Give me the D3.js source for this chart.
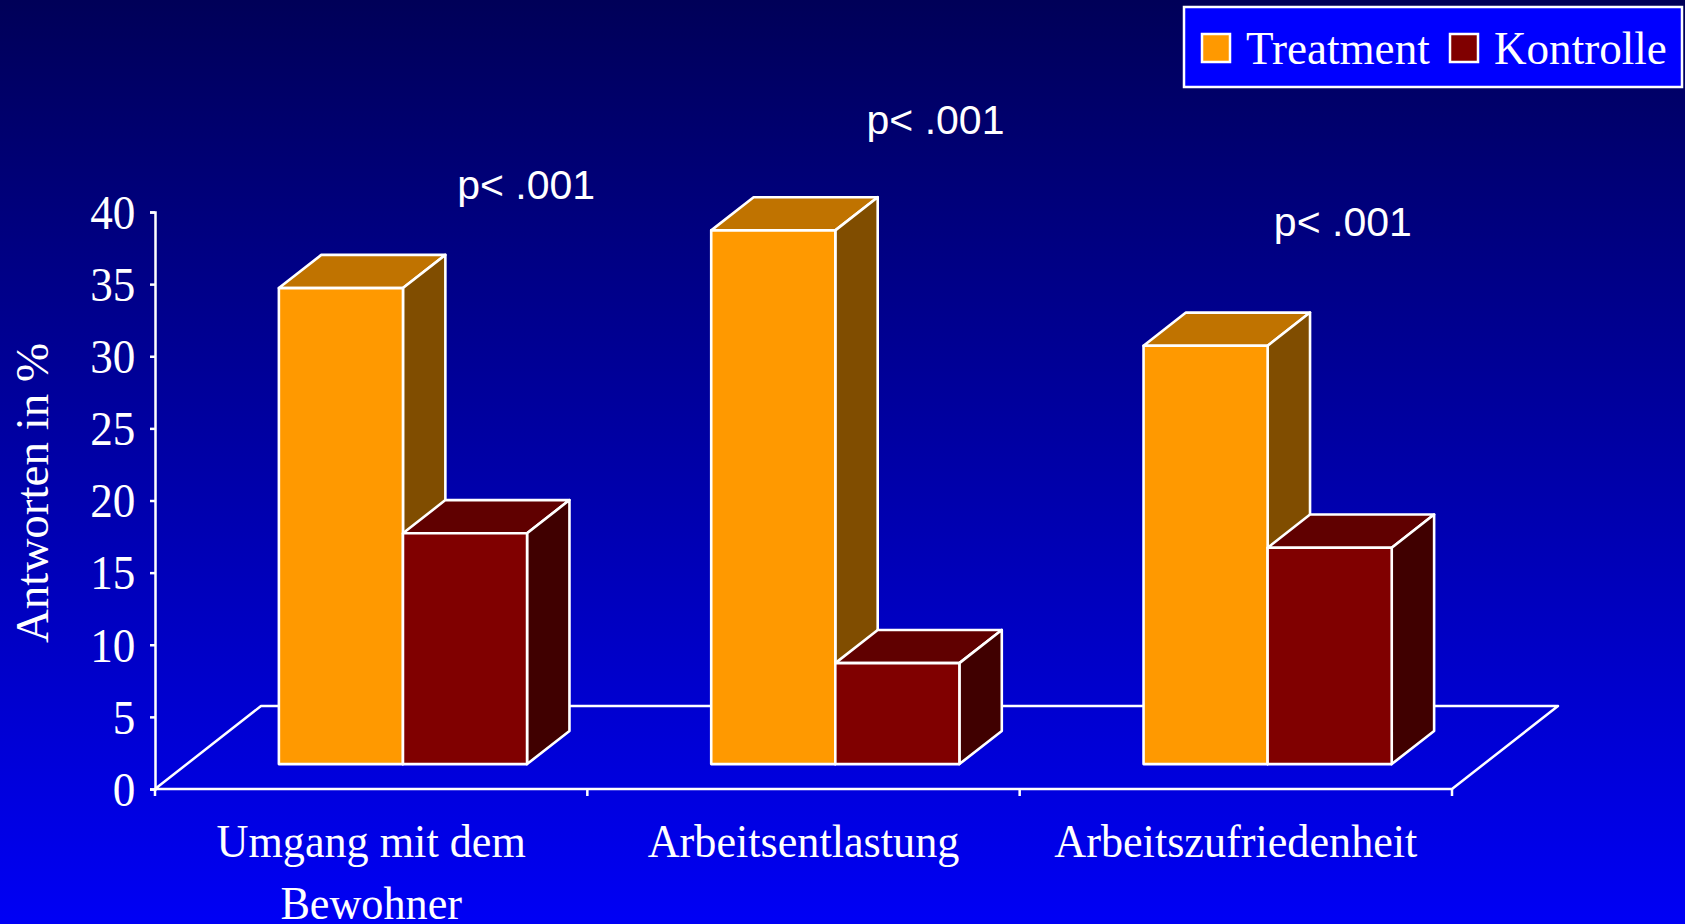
<!DOCTYPE html>
<html>
<head>
<meta charset="utf-8">
<script src="https://cdn.jsdelivr.net/npm/d3@7"></script>
<style>
  html, body { margin: 0; padding: 0; overflow: hidden; background: #000080; }
</style>
</head>
<body>
<div id="container"></div>
<script>
/* DATA */
const categories = ["Umgang mit dem Bewohner", "Arbeitsentlastung", "Arbeitszufriedenheit"];
const categoryLines = [["Umgang mit dem", "Bewohner"], ["Arbeitsentlastung"], ["Arbeitszufriedenheit"]];
const series = ["Treatment", "Kontrolle"];
const treatment = [33, 37, 29];
const kontrolle = [16, 7, 15];
const yTicks = [0, 5, 10, 15, 20, 25, 30, 35, 40];
const pLabels = ["p< .001", "p< .001", "p< .001"];
const yTitle = "Antworten in %";

/* CONSTANTS */
const width = 1685;
const height = 924;
const serif = "'Liberation Serif', 'Times New Roman', serif";
const sans = "'Liberation Sans', Arial, sans-serif";
const squash = 0.94;   // slide text looks a bit narrow
const depthX = 106, depthY = -83;   // floor depth
const barFront = 0.3, barBack = 0.7;

const faceColors = {
  Treatment: { front: "#ff9900", top: "#c07300", side: "#804d00" },
  Kontrolle: { front: "#800000", top: "#600000", side: "#400000" }
};

/* SCALES */
const xScale = d3.scaleBand()
  .domain(categories)
  .range([155, 1452])
  .padding(0);

const xSub = d3.scaleBand()
  .domain(series)
  .range([0, xScale.bandwidth()])
  .paddingInner(0)
  .paddingOuter(0.742);

const yScale = d3.scaleLinear()
  .domain([0, 40])
  .range([789, 212]);

/* SVG */
const svg = d3.select("#container")
  .append("svg")
  .attr("width", width)
  .attr("height", height);

const grad = svg.append("defs").append("linearGradient")
  .attr("id", "bg")
  .attr("x1", 0).attr("y1", 0).attr("x2", 0).attr("y2", 1);
grad.append("stop").attr("offset", "0%").attr("stop-color", "#000058");
grad.append("stop").attr("offset", "100%").attr("stop-color", "#0000f5");

svg.append("rect")
  .attr("width", width)
  .attr("height", height)
  .attr("fill", "url(#bg)");

// floor
const x0 = xScale.range()[0], x1 = xScale.range()[1], y0 = yScale(0);
svg.append("polygon")
  .attr("points", [[x0, y0], [x0 + depthX, y0 + depthY], [x1 + depthX, y0 + depthY], [x1, y0]].join(" "))
  .attr("fill", "none")
  .attr("stroke", "white")
  .attr("stroke-width", 2.5)
  .attr("stroke-linejoin", "round");

// x ticks
const xTickPos = categories.map(d => xScale(d)).concat([x1]);
svg.selectAll("line.xtick")
  .data(xTickPos)
  .join("line")
  .attr("class", "xtick")
  .attr("x1", d => d).attr("x2", d => d)
  .attr("y1", y0).attr("y2", y0 + 7)
  .attr("stroke", "white")
  .attr("stroke-width", 2.5);

// bars
const bars = [];
categories.forEach((c, i) => {
  bars.push({ cat: c, s: "Treatment", v: treatment[i] });
  bars.push({ cat: c, s: "Kontrolle", v: kontrolle[i] });
});

const fdx = depthX * barFront, fdy = depthY * barFront;
const bdx = depthX * (barBack - barFront), bdy = depthY * (barBack - barFront);

const barG = svg.selectAll("g.bar")
  .data(bars)
  .join("g")
  .attr("class", "bar")
  .attr("stroke", "white")
  .attr("stroke-width", 2.6)
  .attr("stroke-linejoin", "round");

barG.each(function(d) {
  const g = d3.select(this);
  const left = xScale(d.cat) + xSub(d.s) + fdx;
  const right = left + xSub.bandwidth();
  const top = yScale(d.v) + fdy;
  const bottom = yScale(0) + fdy;
  const col = faceColors[d.s];
  g.append("polygon")
    .attr("points", [[left, top], [left + bdx, top + bdy], [right + bdx, top + bdy], [right, top]].join(" "))
    .attr("fill", col.top);
  g.append("polygon")
    .attr("points", [[right, top], [right + bdx, top + bdy], [right + bdx, bottom + bdy], [right, bottom]].join(" "))
    .attr("fill", col.side);
  g.append("rect")
    .attr("x", left)
    .attr("y", top)
    .attr("width", right - left)
    .attr("height", bottom - top)
    .attr("fill", col.front);
});

// y axis
const yAxis = svg.append("g")
  .attr("class", "y-axis")
  .attr("transform", `translate(${x0},0)`)
  .call(d3.axisLeft(yScale).tickValues(yTicks).tickSize(5).tickPadding(16));
yAxis.selectAll("path, line").attr("stroke", "white").attr("stroke-width", 2.5);
yAxis.selectAll("text")
  .attr("fill", "white")
  .attr("font-family", serif)
  .attr("font-size", 48)
  .attr("dy", "0.34em")
  .attr("transform", `scale(${squash},1)`);

// y title
svg.append("text")
  .attr("transform", "translate(48,493) rotate(-90)")
  .attr("text-anchor", "middle")
  .attr("fill", "white")
  .attr("font-family", serif)
  .attr("font-size", 47)
  .text(yTitle);

// category labels
svg.selectAll("text.cat")
  .data(categories)
  .join("text")
  .attr("class", "cat")
  .attr("transform", d => `translate(${xScale(d) + xScale.bandwidth() / 2},857) scale(${squash},1)`)
  .attr("text-anchor", "middle")
  .attr("fill", "white")
  .attr("font-family", serif)
  .attr("font-size", 47)
  .each(function(d, i) {
    d3.select(this).selectAll("tspan")
      .data(categoryLines[i])
      .join("tspan")
      .attr("x", 0)
      .attr("y", (t, j) => j * 62)
      .text(t => t);
  });

// p-value notes
const pOffset = [[155, 199], [132, 134], [107, 236]];
svg.selectAll("text.p")
  .data(pLabels)
  .join("text")
  .attr("class", "p")
  .attr("x", (d, i) => xScale(categories[i]) + xScale.bandwidth() / 2 + pOffset[i][0])
  .attr("y", (d, i) => pOffset[i][1])
  .attr("text-anchor", "middle")
  .attr("fill", "white")
  .attr("font-family", sans)
  .attr("font-size", 41)
  .text(d => d);

// legend
const legend = svg.append("g").attr("class", "legend");
legend.append("rect")
  .attr("x", 1184).attr("y", 7)
  .attr("width", 498).attr("height", 80)
  .attr("fill", "#0000ff")
  .attr("stroke", "white")
  .attr("stroke-width", 2.5);

const legendX = [1202, 1450];
series.forEach((s, i) => {
  legend.append("rect")
    .attr("x", legendX[i]).attr("y", 34)
    .attr("width", 28).attr("height", 28)
    .attr("fill", faceColors[s].front)
    .attr("stroke", "white")
    .attr("stroke-width", 2.5);
  legend.append("text")
    .attr("transform", `translate(${legendX[i] + 44},64) scale(0.96,1)`)
    .attr("fill", "white")
    .attr("font-family", serif)
    .attr("font-size", 47)
    .text(s);
});
</script>
</body>
</html>
